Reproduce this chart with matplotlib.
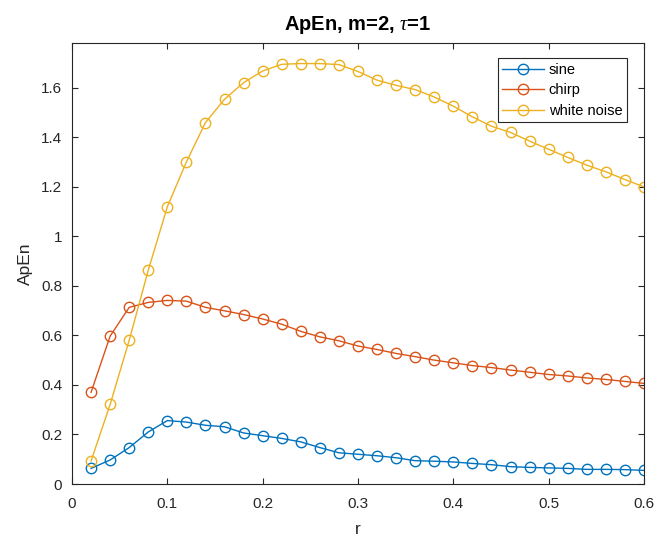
import matplotlib
matplotlib.use("Agg")
import matplotlib.pyplot as plt
import numpy as np

plt.rcParams['font.family'] = ['Liberation Sans', 'DejaVu Sans']
plt.rcParams['mathtext.fontset'] = 'custom'
plt.rcParams['mathtext.it'] = 'Liberation Serif:italic'

r = [0.02, 0.04, 0.06, 0.08, 0.10, 0.12, 0.14, 0.16, 0.18, 0.20,
     0.22, 0.24, 0.26, 0.28, 0.30, 0.32, 0.34, 0.36, 0.38, 0.40,
     0.42, 0.44, 0.46, 0.48, 0.50, 0.52, 0.54, 0.56, 0.58, 0.60]

sine = [0.063, 0.097, 0.147, 0.210, 0.256, 0.250, 0.237, 0.231, 0.206, 0.195,
        0.184, 0.170, 0.147, 0.126, 0.120, 0.114, 0.106, 0.094, 0.092, 0.089,
        0.083, 0.078, 0.070, 0.067, 0.065, 0.063, 0.059, 0.059, 0.058, 0.055]

chirp = [0.370, 0.597, 0.713, 0.733, 0.741, 0.738, 0.713, 0.699, 0.684, 0.666,
         0.645, 0.616, 0.594, 0.578, 0.557, 0.543, 0.527, 0.514, 0.500, 0.489,
         0.478, 0.470, 0.460, 0.451, 0.442, 0.436, 0.428, 0.422, 0.414, 0.406]

white_noise = [0.093, 0.321, 0.580, 0.863, 1.119, 1.300, 1.459, 1.553, 1.620, 1.667,
               1.694, 1.697, 1.697, 1.693, 1.665, 1.630, 1.609, 1.592, 1.562, 1.525,
               1.482, 1.444, 1.419, 1.384, 1.351, 1.318, 1.287, 1.260, 1.229, 1.199]

series_names = ['sine', 'chirp', 'white noise']
colors = ['#0072BD', '#D95319', '#EDB120']

fig = plt.figure(figsize=(6.68, 5.38), dpi=100)
ax = fig.add_axes([72/668, 54/538, 572/668, 441/538])

for y, name, c in zip([sine, chirp, white_noise], series_names, colors):
    ax.plot(r, y, '-o', color=c, mfc='none', mec=c, lw=1.0, ms=7.5, mew=1.0, label=name)

ax.set_xlim(0, 0.6)
ax.set_ylim(0, 1.78)
ax.set_xticks([0, 0.1, 0.2, 0.3, 0.4, 0.5, 0.6])
ax.set_xticklabels(['0', '0.1', '0.2', '0.3', '0.4', '0.5', '0.6'])
ax.set_yticks([0, 0.2, 0.4, 0.6, 0.8, 1.0, 1.2, 1.4, 1.6])
ax.set_yticklabels(['0', '0.2', '0.4', '0.6', '0.8', '1', '1.2', '1.4', '1.6'])

axcol = '#262626'
for s in ax.spines.values():
    s.set_color(axcol)
    s.set_linewidth(0.8)
ax.tick_params(direction='in', length=4, width=0.8, colors=axcol, labelsize=11,
               top=True, right=True)
ax.tick_params(axis='x', pad=9)
ax.tick_params(axis='y', pad=7)

ax.set_xlabel('r', fontsize=12.5, color=axcol, labelpad=8)
ax.set_ylabel('ApEn', fontsize=12.5, color=axcol, labelpad=6)
ax.set_title(r'ApEn, m=2, $\tau$=1', fontsize=14.5, fontweight='bold', color='black', pad=9)

leg = ax.legend(loc='upper right', bbox_to_anchor=(0.97, 0.965), fontsize=10.5,
                frameon=True, fancybox=False, edgecolor=axcol, framealpha=1,
                borderpad=0.3, labelspacing=0.45, handlelength=2.9, handletextpad=0.3,
                borderaxespad=0)
leg.get_frame().set_linewidth(0.8)

fig.savefig('out.png', dpi=100, facecolor='white')
